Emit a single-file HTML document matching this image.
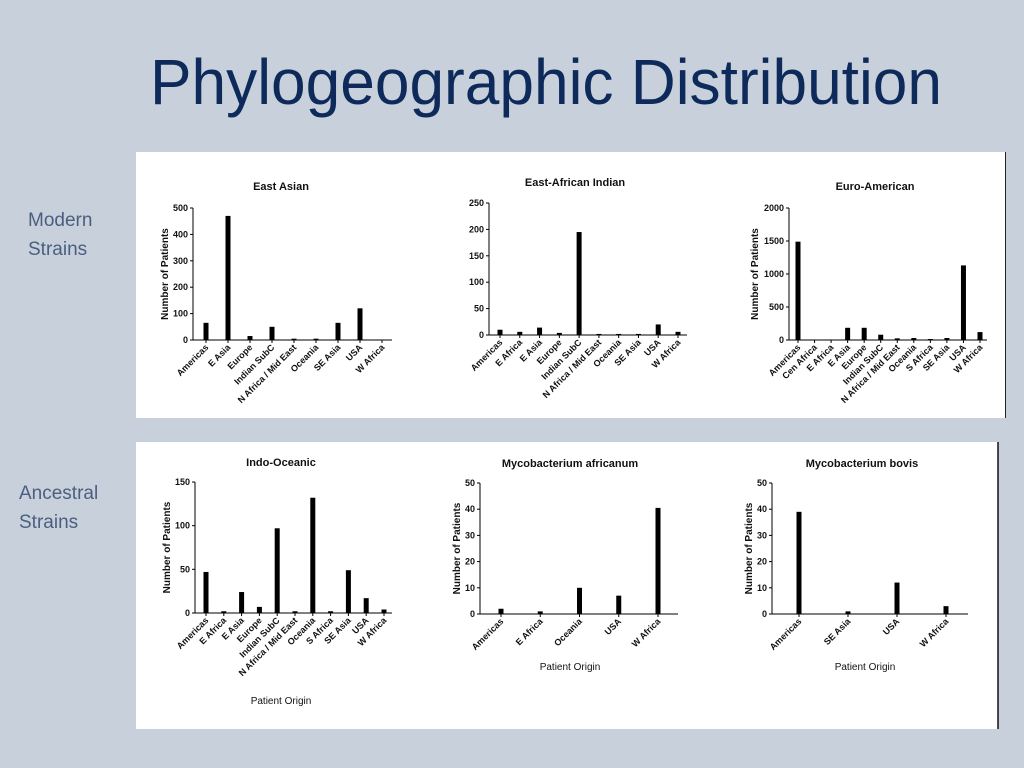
<!DOCTYPE html>
<html><head><meta charset="utf-8"><style>
body{margin:0;width:1024px;height:768px;background:#c8d0dc;overflow:hidden}
svg{display:block;font-family:"Liberation Sans",Arial,sans-serif}
</style></head><body>
<svg id="s" width="1024" height="768">
<rect x="0" y="0" width="1024" height="768" fill="#c8d0dc"/>
<text x="546" y="104" text-anchor="middle" font-size="64" fill="#0d2a5a" textLength="792" lengthAdjust="spacingAndGlyphs">Phylogeographic Distribution</text>
<text x="28" y="226" font-size="19" fill="#4a5f80">Modern</text>
<text x="28" y="255" font-size="19" fill="#4a5f80">Strains</text>
<text x="19" y="499" font-size="19" fill="#4a5f80">Ancestral</text>
<text x="19" y="528" font-size="19" fill="#4a5f80">Strains</text>
<rect x="136" y="152" width="870" height="266" fill="#fff"/>
<line x1="1005.5" y1="152" x2="1005.5" y2="418" stroke="#222"/>
<rect x="136" y="442" width="862" height="287" fill="#fff"/>
<line x1="998" y1="442" x2="998" y2="729" stroke="#111" stroke-width="1.5"/>
</svg>
<script>
const eaCats=["Americas","E Asia","Europe","Indian SubC","N Africa / Mid East","Oceania","SE Asia","USA","W Africa"];
const eaVals=[65,470,15,50,5,5,65,120,0];
const eaTicks=[0,100,200,300,400,500];
const eiCats=["Americas","E Africa","E Asia","Europe","Indian SubC","N Africa / Mid East","Oceania","SE Asia","USA","W Africa"];
const eiVals=[10,6,14,4,195,2,2,2,20,6];
const eiTicks=[0,50,100,150,200,250];
const euCats=["Americas","Cen Africa","E Africa","E Asia","Europe","Indian SubC","N Africa / Mid East","Oceania","S Africa","SE Asia","USA","W Africa"];
const euVals=[1490,0,0,185,185,80,25,30,15,30,1130,120];
const euTicks=[0,500,1000,1500,2000];
const ioCats=["Americas","E Africa","E Asia","Europe","Indian SubC","N Africa / Mid East","Oceania","S Africa","SE Asia","USA","W Africa"];
const ioVals=[47,2,24,7,97,2,132,2,49,17,4];
const ioTicks=[0,50,100,150];
const maCats=["Americas","E Africa","Oceania","USA","W Africa"];
const maVals=[2,1,10,7,40.5];
const maTicks=[0,10,20,30,40,50];
const mbCats=["Americas","SE Asia","USA","W Africa"];
const mbVals=[39,1,12,3];
const mbTicks=[0,10,20,30,40,50];

const NS="http://www.w3.org/2000/svg";
const svg=document.getElementById('s');
function mk(tag,attrs,parent){const e=document.createElementNS(NS,tag);for(const k in attrs)e.setAttribute(k,attrs[k]);(parent||svg).appendChild(e);return e;}

function chart(id,title,cats,vals,ticks,g){
  const grp=mk('g',{});
  
  
  const max=ticks[ticks.length-1];
  const y=v=>g.y0-(v/max)*(g.y0-g.yTop);
  const x=i=>g.xFirst+i*(g.xLast-g.xFirst)/Math.max(1,cats.length-1);
  const t=mk('text',{x:g.tx,y:g.ty,'text-anchor':'middle','font-size':11,'font-weight':'bold',fill:'#111'},grp);
  t.textContent=title;
  
  
  const ya=mk('line',{x1:g.ax,y1:g.yTop,x2:g.ax,y2:g.y0,stroke:'#000','stroke-width':1},grp);
  
  
  const xa=mk('line',{x1:g.ax,y1:g.y0,x2:g.axEnd,y2:g.y0,stroke:'#000','stroke-width':1},grp);
  
  
  ticks.forEach(v=>{
    const tk=mk('line',{x1:g.ax-3,y1:y(v),x2:g.ax,y2:y(v),stroke:'#000'},grp);
    
    
    const tl=mk('text',{x:g.ax-5,y:y(v)+3,'text-anchor':'end','font-size':9,'font-weight':'bold',fill:'#111'},grp);
    tl.textContent=v;
    
    
  });
  cats.forEach((c,i)=>{
    const xc=x(i);
    const h=g.y0-y(vals[i]);
    const b=mk('rect',{x:xc-2.5,y:g.y0-h,width:5,height:h,fill:'#000'},grp);
    
    
    const tk=mk('line',{x1:xc,y1:g.y0,x2:xc,y2:g.y0+3,stroke:'#000'},grp);
    
    
    const l=mk('text',{x:xc+3,y:g.y0+8,'text-anchor':'end','font-size':9,'font-weight':'bold',fill:'#111',transform:`rotate(-45 ${xc+3} ${g.y0+8})`},grp);
    l.textContent=c;
    
    
  });
  if(g.ytx){
    const yt=mk('text',{x:g.ytx,y:(g.yTop+g.y0)/2,'text-anchor':'middle','font-size':10,'font-weight':'bold',fill:'#111',transform:`rotate(-90 ${g.ytx} ${(g.yTop+g.y0)/2})`},grp);
    yt.textContent='Number of Patients';
    
    
  }
  if(g.xty){
    const xt=mk('text',{x:g.xtx,y:g.xty,'text-anchor':'middle','font-size':10,fill:'#111'},grp);
    xt.textContent='Patient Origin';
    
    
  }
}
chart('east-asian','East Asian',eaCats,eaVals,eaTicks,{ax:193,axEnd:392,y0:340,yTop:208,xFirst:206,xLast:382,tx:281,ty:190,ytx:168});
chart('east-african-indian','East-African Indian',eiCats,eiVals,eiTicks,{ax:489,axEnd:687,y0:335,yTop:203,xFirst:500,xLast:678,tx:575,ty:186});
chart('euro-american','Euro-American',euCats,euVals,euTicks,{ax:789,axEnd:987,y0:340,yTop:208,xFirst:798,xLast:980,tx:875,ty:190,ytx:758});
chart('indo-oceanic','Indo-Oceanic',ioCats,ioVals,ioTicks,{ax:195,axEnd:392,y0:613,yTop:482,xFirst:206,xLast:384,tx:281,ty:466,ytx:170,xtx:281,xty:704});
chart('m-africanum','Mycobacterium africanum',maCats,maVals,maTicks,{ax:480,axEnd:678,y0:614,yTop:483,xFirst:501,xLast:658,tx:570,ty:467,ytx:460,xtx:570,xty:670});
chart('m-bovis','Mycobacterium bovis',mbCats,mbVals,mbTicks,{ax:772,axEnd:968,y0:614,yTop:483,xFirst:799,xLast:946,tx:862,ty:467,ytx:752,xtx:865,xty:670});
</script>
</body></html>
